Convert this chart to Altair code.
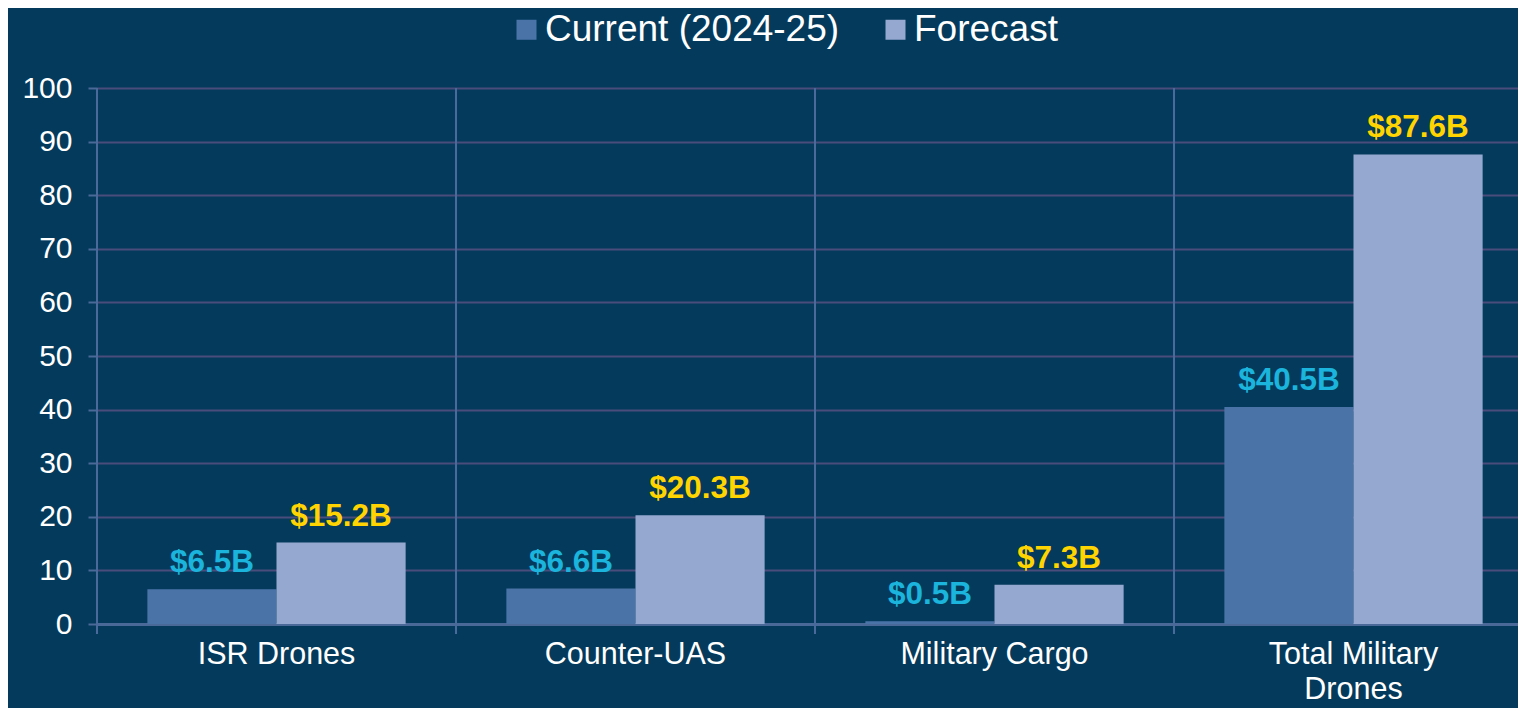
import altair as alt
import pandas as pd

categories = ["ISR Drones", "Counter-UAS", "Military Cargo", "Total Military Drones"]
series = ["Current (2024-25)", "Forecast"]
current = [6.5, 6.6, 0.5, 40.5]
forecast = [15.2, 20.3, 7.3, 87.6]
y_ticks = [0, 10, 20, 30, 40, 50, 60, 70, 80, 90, 100]

rows = []
for i, c in enumerate(categories):
    rows.append({"cat": c, "series": series[0], "value": current[i], "label": f"${current[i]:.1f}B"})
    rows.append({"cat": c, "series": series[1], "value": forecast[i], "label": f"${forecast[i]:.1f}B"})
df = pd.DataFrame(rows)
div_df = pd.DataFrame({"cat": categories})

BG = "#043a5b"
FONT = "Liberation Sans"
W, H = 1436, 536
PAD_L, PAD_T = 89, 80
SVG_W, SVG_H = 1510, 700

label_expr = "datum.value == 'Total Military Drones' ? ['Total Military', 'Drones'] : datum.value"

xscale = alt.Scale(domain=categories, paddingInner=0, paddingOuter=0)
xoff_scale = alt.Scale(paddingOuter=0.39, paddingInner=0)

bars = alt.Chart(df).mark_bar().encode(
    x=alt.X("cat:N", scale=xscale, sort=categories, title=None,
            axis=alt.Axis(labelExpr=label_expr, labelAngle=0, labelFont=FONT, labelFontSize=30.5,
                          labelColor="white", labelPadding=15, labelLineHeight=35, labelLimit=0,
                          bandPosition=0.5, labelAlign="center",
                          ticks=False, grid=False, domain=True, domainColor="#4a6898",
                          domainWidth=3, labelBaseline="top")),
    xOffset=alt.XOffset("series:N", sort=series, scale=xoff_scale),
    y=alt.Y("value:Q", scale=alt.Scale(domain=[0, 100], nice=False), title=None,
            axis=alt.Axis(values=y_ticks, labelFont=FONT, labelFontSize=30, labelColor="white",
                          labelPadding=16, tickSize=9, tickColor="#4a6898", tickWidth=2,
                          domain=False, grid=True, gridColor="#4a4c7c", gridWidth=2)),
    color=alt.Color("series:N", sort=series,
                    scale=alt.Scale(domain=series, range=["#4a74a8", "#95a9d0"]),
                    legend=alt.Legend(title=None, orient="none", legendX=411, legendY=-77,
                                      direction="horizontal", symbolType="square", symbolSize=400,
                                      symbolStrokeWidth=0, labelFont=FONT, labelFontSize=37,
                                      labelColor="white", columnPadding=37, labelOffset=0,
                                      labelLimit=0, padding=0)),
)

texts = alt.Chart(df).mark_text(font=FONT, fontSize=31.5, fontWeight="bold", baseline="alphabetic",
                                dy=-17).encode(
    x=alt.X("cat:N", scale=xscale, sort=categories),
    xOffset=alt.XOffset("series:N", sort=series, scale=xoff_scale),
    y=alt.Y("value:Q"),
    text="label:N",
    color=alt.Color("series:N", scale=alt.Scale(domain=series, range=["#1ab4dc", "#ffd400"]), legend=None),
)

dividers = alt.Chart(div_df).mark_rule(color="#4a6a9c", strokeWidth=2).encode(
    x=alt.X("cat:N", scale=xscale, sort=categories, bandPosition=0),
    y=alt.value(0),
    y2=alt.value(H + 10),
)

chart = alt.layer(bars, texts, dividers).resolve_scale(color="independent").properties(
    width=W, height=H, background=BG,
    autosize=alt.AutoSizeParams(type="none"),
    padding={"left": PAD_L, "top": PAD_T, "right": SVG_W - PAD_L - W, "bottom": SVG_H - PAD_T - H},
).configure_view(stroke=None)

chart.save("out.html", embed_options={"renderer": "svg", "actions": False})
